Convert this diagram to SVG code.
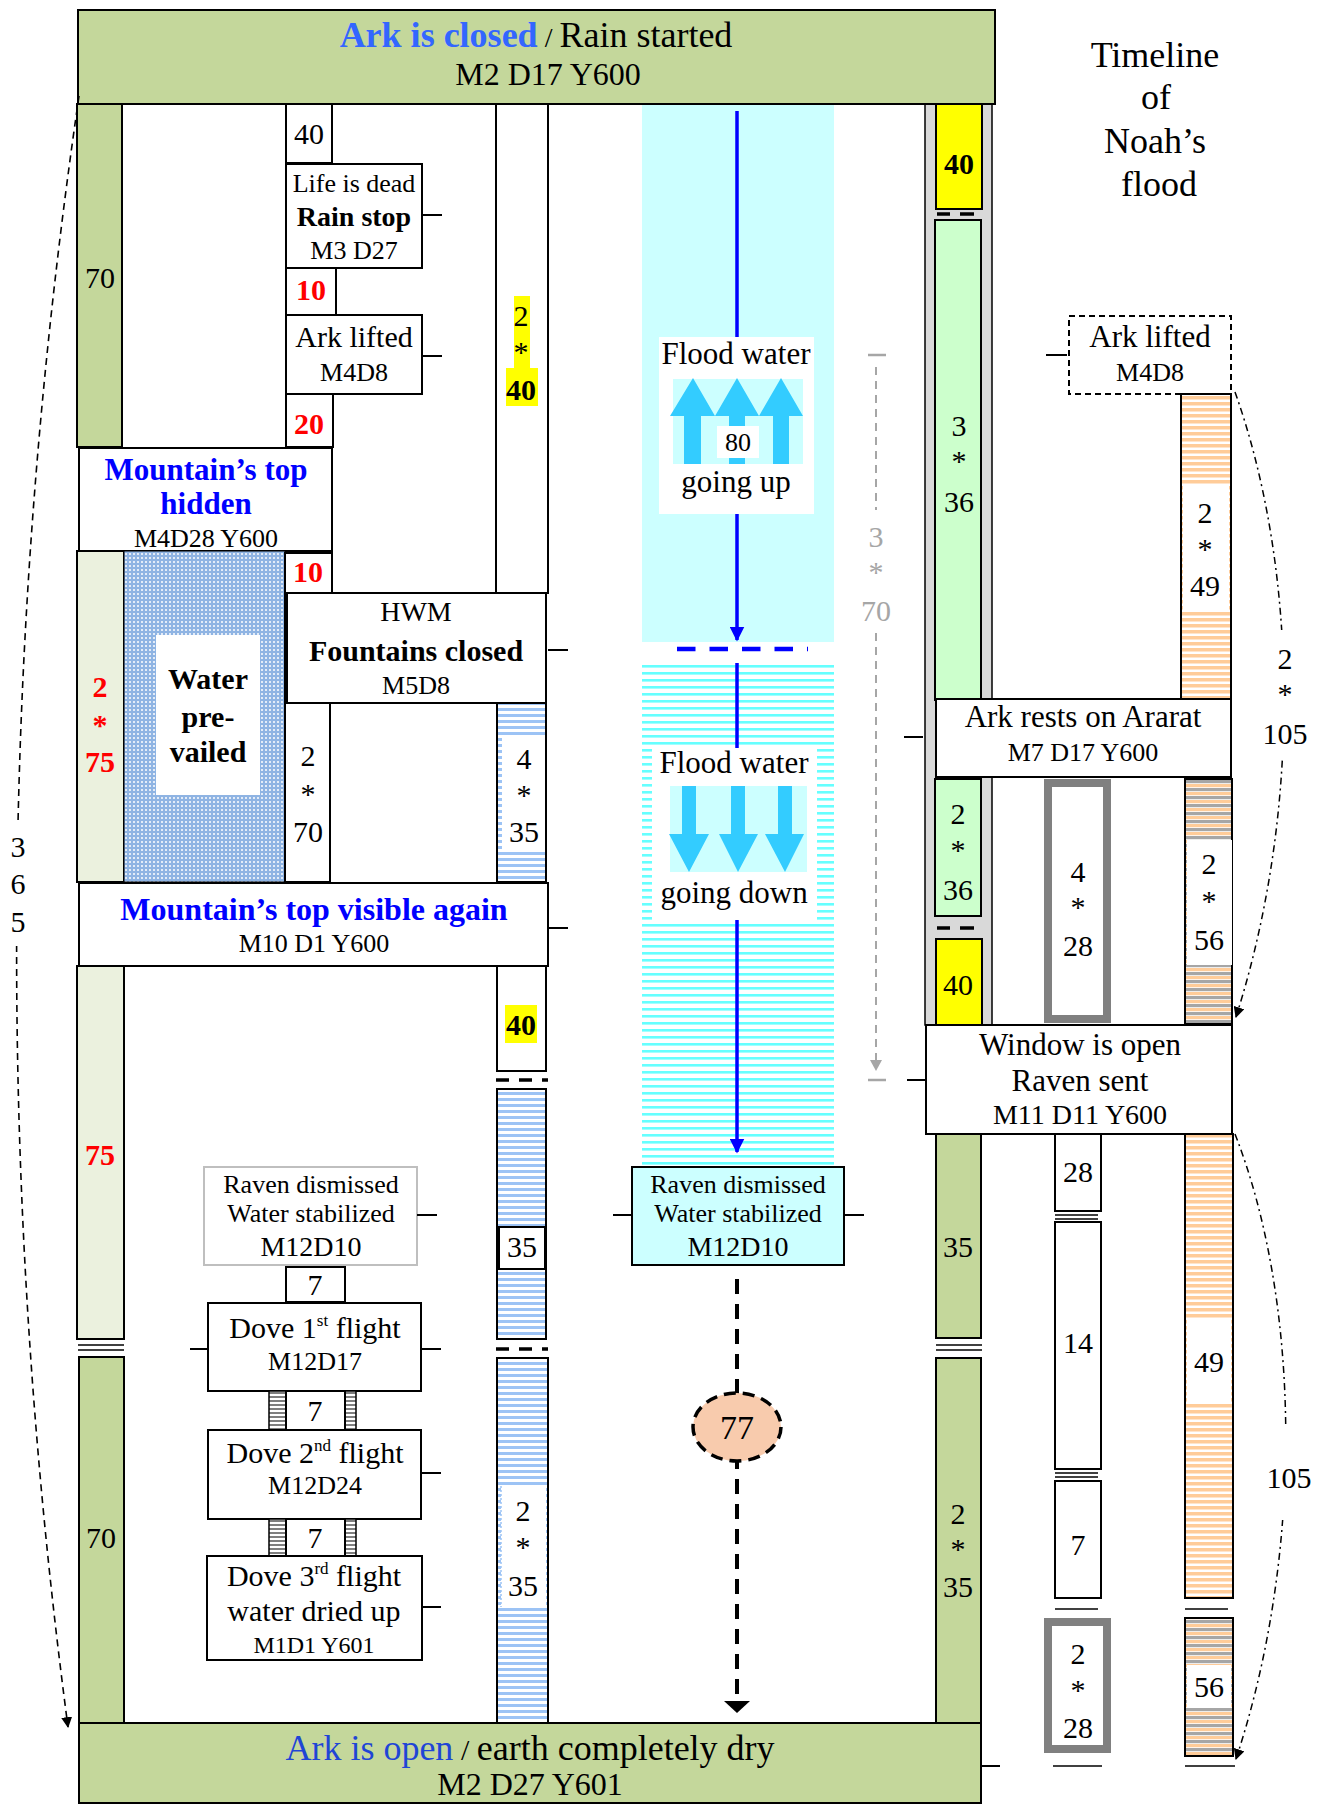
<svg xmlns="http://www.w3.org/2000/svg" width="1323" height="1804" viewBox="0 0 1323 1804">
<style>
text{font-family:"Liberation Serif","Times New Roman",serif;fill:#000}
.c{text-anchor:middle}
.f24{font-size:24px}.f26{font-size:26px}.f28{font-size:28px}.f30{font-size:30px}.f31{font-size:31px}.f32{font-size:32px}.f34{font-size:34px}.f36{font-size:36px}
.b{font-weight:bold}
.red{fill:#ff0000;font-weight:bold}
.blue{fill:#0000ff;font-weight:bold}
.gray{fill:#a6a6a6}
.box{fill:#fff;stroke:#000;stroke-width:2}
.tk{stroke:#000;stroke-width:2}
.sep{stroke:#000;stroke-width:3.5}
.thin{stroke:#000;stroke-width:1.5}
.olive{fill:#c4d79b;stroke:#000;stroke-width:2}
.pale{fill:#ebf1de;stroke:#000;stroke-width:2}
.mint{fill:#ccffcc;stroke:#000;stroke-width:2}
.yel{fill:#ffff00;stroke:#000;stroke-width:2}
.grayframe{fill:#fff;stroke:#808080;stroke-width:8}
.arr{fill:#33ccff}
</style>
<defs>
<pattern id="blueS" width="8" height="6" patternUnits="userSpaceOnUse"><rect width="8" height="6" fill="#fff"/><rect width="8" height="3" fill="#9cc3f5"/></pattern>
<pattern id="cyanS" width="8" height="7" patternUnits="userSpaceOnUse"><rect width="8" height="7" fill="#fff"/><rect width="8" height="2.6" fill="#66ffff"/></pattern>
<pattern id="orS" width="8" height="6" patternUnits="userSpaceOnUse"><rect width="8" height="6" fill="#fff"/><rect width="8" height="3.5" fill="#ffcc99"/></pattern>
<pattern id="ogS" width="8" height="8" patternUnits="userSpaceOnUse"><rect width="8" height="8" fill="#fff"/><rect width="8" height="3.2" fill="#ffcc99"/><rect y="4" width="8" height="3.2" fill="#a6a6a6"/></pattern>
<pattern id="grS" width="4" height="4" patternUnits="userSpaceOnUse"><rect width="4" height="4" fill="#fff"/><rect width="4" height="2" fill="#7f7f7f"/></pattern>
<pattern id="dots" width="4" height="4" patternUnits="userSpaceOnUse"><rect width="4" height="4" fill="#8fb4e3"/><circle cx="2" cy="2" r="1" fill="#fff"/></pattern>
<marker id="ab" viewBox="0 0 10 10" refX="9" refY="5" markerWidth="15" markerHeight="15" markerUnits="userSpaceOnUse" orient="auto"><path d="M0,0 L10,5 L0,10 z" fill="#0000ff"/></marker>
<marker id="ak" viewBox="0 0 10 10" refX="9" refY="5" markerWidth="11" markerHeight="11" markerUnits="userSpaceOnUse" orient="auto"><path d="M0,0 L10,5 L0,10 z" fill="#000"/></marker>
</defs>

<!-- left columns -->
<g id="col-70-top"><rect x="77" y="104" width="45" height="343" class="olive"/><text x="100" y="288" class="c f30">70</text></g>
<g id="box-40-top"><rect x="286" y="104" width="46" height="59" class="box"/><text x="309" y="144" class="c f30">40</text></g>
<g id="rain-stop"><rect x="286" y="164" width="136" height="104" class="box"/>
<text x="354" y="192" class="c f26">Life is dead</text><text x="354" y="226" class="c f28 b">Rain stop</text><text x="354" y="259" class="c f26">M3 D27</text></g>
<g id="box-10a"><rect x="286" y="268" width="50" height="47" class="box"/><text x="311" y="300" class="c f30 red">10</text></g>
<g id="ark-lifted-left"><rect x="286" y="315" width="136" height="79" class="box"/>
<text x="354" y="347" class="c f30">Ark lifted</text><text x="354" y="381" class="c f26">M4D8</text></g>
<g id="box-20"><rect x="286" y="394" width="47" height="53" class="box"/><text x="309" y="434" class="c f30 red">20</text></g>
<g id="col-2x40"><rect x="496" y="104" width="52" height="489" class="box"/>
<rect x="514" y="296" width="16" height="72" fill="#ffff00"/><rect x="506" y="368" width="32" height="38" fill="#ffff00"/>
<text x="521" y="326" class="c f30">2</text><text x="521" y="362" class="c f30">*</text><text x="521" y="400" class="c f30 b">40</text></g>
<g id="mountain-hidden"><rect x="79" y="448" width="253" height="103" class="box"/>
<text x="206" y="480" class="c f31 blue">Mountain’s top</text><text x="206" y="514" class="c f31 blue">hidden</text><text x="206" y="547" class="c f26">M4D28 Y600</text></g>
<g id="col-2x75"><rect x="77" y="551" width="47" height="331" class="pale"/>
<text x="100" y="697" class="c f30 red">2</text><text x="100" y="735" class="c f30 red">*</text><text x="100" y="772" class="c f30 red">75</text></g>
<g id="water-prevailed"><rect x="124" y="551" width="161" height="331" fill="url(#dots)" stroke="#000" stroke-width="1"/>
<rect x="156" y="635" width="104" height="160" fill="#fff"/>
<text x="208" y="689" class="c f30 b">Water</text><text x="208" y="727" class="c f30 b">pre-</text><text x="208" y="762" class="c f30 b">vailed</text></g>
<g id="box-10b"><rect x="285" y="553" width="47" height="40" class="box"/><text x="308" y="582" class="c f30 red">10</text></g>
<g id="hwm"><rect x="285" y="593" width="261" height="110" class="box"/><line x1="286" y1="593" x2="286" y2="703" stroke="#000" stroke-width="4"/>
<text x="416" y="621" class="c f28">HWM</text><text x="416" y="661" class="c f30 b">Fountains closed</text><text x="416" y="694" class="c f26">M5D8</text></g>
<g id="col-2x70"><rect x="285" y="703" width="45" height="179" class="box"/>
<text x="308" y="766" class="c f30">2</text><text x="308" y="804" class="c f30">*</text><text x="308" y="842" class="c f30">70</text></g>
<g id="col-4x35"><rect x="497" y="703" width="49" height="179" fill="url(#blueS)" stroke="#000" stroke-width="2"/>
<rect x="502" y="738" width="43" height="114" fill="#fff"/>
<text x="524" y="769" class="c f30">4</text><text x="524" y="805" class="c f30">*</text><text x="524" y="842" class="c f30">35</text></g>
<g id="mountain-visible"><rect x="79" y="883" width="469" height="83" class="box"/>
<text x="314" y="920" class="c f32 blue">Mountain’s top visible again</text><text x="314" y="952" class="c f26">M10 D1 Y600</text></g>
<g id="col-75"><rect x="77" y="966" width="47" height="373" class="pale"/><text x="100" y="1165" class="c f30 red">75</text></g>
<g id="col-70-bottom"><rect x="79" y="1357" width="45" height="366" class="olive"/><text x="101" y="1548" class="c f30">70</text></g>
<g id="box-40-blue"><rect x="497" y="966" width="49" height="105" class="box"/><rect x="505" y="1005" width="32" height="38" fill="#ffff00"/><text x="521" y="1035" class="c f30 b">40</text></g>
<g id="col-35-blue"><rect x="497" y="1089" width="49" height="250" fill="url(#blueS)" stroke="#000" stroke-width="2"/>
<rect x="499" y="1227" width="46" height="42" class="box"/><text x="522" y="1257" class="c f30">35</text></g>
<g id="col-2x35-blue"><rect x="497" y="1358" width="51" height="365" fill="url(#blueS)" stroke="#000" stroke-width="2"/>
<rect x="501" y="1486" width="45" height="121" fill="#fff"/><line x1="501" y1="1486" x2="501" y2="1607" stroke="#9cc3f5" stroke-width="1.5" stroke-dasharray="2 2"/>
<text x="523" y="1521" class="c f30">2</text><text x="523" y="1557" class="c f30">*</text><text x="523" y="1596" class="c f30">35</text></g>

<g id="raven-left"><rect x="204" y="1167" width="213" height="98" fill="#fff" stroke="#bfbfbf" stroke-width="2"/>
<text x="311" y="1193" class="c f26">Raven dismissed</text><text x="311" y="1222" class="c f26">Water stabilized</text><text x="311" y="1256" class="c f28">M12D10</text></g>
<g id="gap-7a"><rect x="286" y="1267" width="59" height="35" class="box"/><text x="315" y="1295" class="c f30">7</text></g>
<g id="dove1"><rect x="208" y="1303" width="213" height="88" class="box"/>
<text x="315" y="1338" class="c f30">Dove 1<tspan font-size="17" dy="-12">st</tspan><tspan dy="12"> flight</tspan></text><text x="315" y="1370" class="c f26">M12D17</text></g>
<g id="gap-7b"><rect x="269" y="1391" width="17" height="39" fill="url(#grS)" stroke="#000" stroke-width="1.5"/><rect x="345" y="1391" width="11" height="39" fill="url(#grS)" stroke="#000" stroke-width="1.5"/>
<rect x="286" y="1391" width="59" height="39" class="box"/><text x="315" y="1421" class="c f30">7</text></g>
<g id="dove2"><rect x="208" y="1430" width="213" height="89" class="box"/>
<text x="315" y="1463" class="c f30">Dove 2<tspan font-size="17" dy="-12">nd</tspan><tspan dy="12"> flight</tspan></text><text x="315" y="1494" class="c f26">M12D24</text></g>
<g id="gap-7c"><rect x="269" y="1519" width="17" height="37" fill="url(#grS)" stroke="#000" stroke-width="1.5"/><rect x="345" y="1519" width="11" height="37" fill="url(#grS)" stroke="#000" stroke-width="1.5"/>
<rect x="286" y="1519" width="59" height="37" class="box"/><text x="315" y="1548" class="c f30">7</text></g>
<g id="dove3"><rect x="207" y="1556" width="215" height="104" class="box"/>
<text x="314" y="1586" class="c f30">Dove 3<tspan font-size="17" dy="-12">rd</tspan><tspan dy="12"> flight</tspan></text><text x="314" y="1621" class="c f30">water dried up</text><text x="314" y="1653" class="c f24">M1D1 Y601</text></g>

<!-- center -->
<g id="flood-up"><rect x="642" y="104" width="192" height="538" fill="#ccffff"/>
<rect x="659" y="337" width="155" height="177" fill="#fff"/>
<rect x="673" y="379" width="130" height="85" fill="#ccffff"/>
<polygon class="arr" points="670,416 693,378 715,416 701,416 701,464 684,464 684,416"/>
<polygon class="arr" points="715,416 737,378 759,416 745,416 745,464 729,464 729,416"/>
<polygon class="arr" points="759,416 781,378 803,416 789,416 789,464 773,464 773,416"/>
<rect x="717" y="426" width="42" height="32" fill="#fff"/><text x="738" y="451" class="c f26">80</text>
<text x="736" y="364" class="c f31">Flood water</text><text x="736" y="492" class="c f31">going up</text></g>
<g id="flood-down"><rect x="642" y="663" width="192" height="503" fill="url(#cyanS)"/>
<rect x="652" y="748" width="165" height="172" fill="#fff"/>
<rect x="670" y="786" width="137" height="86" fill="#ccffff"/>
<polygon class="arr" points="682,786 696,786 696,834 709,834 689,872 669,834 682,834"/>
<polygon class="arr" points="731,786 745,786 745,834 758,834 738,872 719,834 731,834"/>
<polygon class="arr" points="778,786 792,786 792,834 804,834 785,872 765,834 778,834"/>
<text x="734" y="773" class="c f31">Flood water</text><text x="734" y="903" class="c f31">going down</text></g>
<g id="raven-center"><rect x="632" y="1167" width="212" height="98" fill="#ccffff" stroke="#000" stroke-width="2"/>
<text x="738" y="1193" class="c f26">Raven dismissed</text><text x="738" y="1222" class="c f26">Water stabilized</text><text x="738" y="1256" class="c f28">M12D10</text></g>

<!-- right -->
<g id="gray-column"><rect x="925" y="104" width="67" height="921" fill="#d9d9d9" stroke="#000" stroke-width="1.5"/>
<rect x="936" y="104" width="46" height="105" class="yel"/><text x="959" y="174" class="c f30 b">40</text>
<rect x="935" y="220" width="46" height="480" class="mint"/>
<text x="959" y="436" class="c f30">3</text><text x="959" y="471" class="c f30">*</text><text x="959" y="512" class="c f30">36</text>
<rect x="935" y="779" width="46" height="137" class="mint"/>
<text x="958" y="824" class="c f30">2</text><text x="958" y="860" class="c f30">*</text><text x="958" y="900" class="c f30">36</text>
<rect x="936" y="939" width="46" height="86" class="yel"/><text x="958" y="995" class="c f30">40</text></g>
<g id="ark-lifted-right"><rect x="1069" y="316" width="162" height="78" fill="#fff" stroke="#000" stroke-width="2" stroke-dasharray="6 4"/>
<text x="1150" y="347" class="c f31">Ark lifted</text><text x="1150" y="381" class="c f26">M4D8</text></g>
<g id="col-2x49"><rect x="1181" y="394" width="50" height="305" fill="url(#orS)" stroke="#000" stroke-width="2"/>
<rect x="1183" y="484" width="46" height="126" fill="#fff"/>
<text x="1205" y="523" class="c f30">2</text><text x="1205" y="559" class="c f30">*</text><text x="1205" y="596" class="c f30">49</text></g>
<g id="ararat"><rect x="936" y="699" width="295" height="78" class="box"/>
<text x="1083" y="727" class="c f31">Ark rests on Ararat</text><text x="1083" y="761" class="c f26">M7 D17 Y600</text></g>
<g id="box-4x28"><rect x="1048" y="783" width="59" height="236" class="grayframe"/>
<text x="1078" y="882" class="c f30">4</text><text x="1078" y="917" class="c f30">*</text><text x="1078" y="956" class="c f30">28</text></g>
<g id="col-2x56"><rect x="1185" y="779" width="47" height="245" fill="url(#ogS)" stroke="#000" stroke-width="2"/>
<rect x="1187" y="840" width="45" height="125" fill="#fff"/>
<text x="1209" y="874" class="c f30">2</text><text x="1209" y="911" class="c f30">*</text><text x="1209" y="950" class="c f30">56</text></g>
<g id="window"><rect x="926" y="1025" width="306" height="109" class="box"/>
<text x="1080" y="1055" class="c f31">Window is open</text><text x="1080" y="1091" class="c f31">Raven sent</text><text x="1080" y="1124" class="c f28">M11 D11 Y600</text></g>
<g id="col-35-green"><rect x="936" y="1134" width="45" height="204" class="olive"/><text x="958" y="1257" class="c f30">35</text></g>
<g id="col-2x35-green"><rect x="936" y="1358" width="45" height="365" class="olive"/>
<text x="958" y="1524" class="c f30">2</text><text x="958" y="1559" class="c f30">*</text><text x="958" y="1597" class="c f30">35</text></g>
<g id="box-28"><rect x="1055" y="1134" width="46" height="77" class="box"/><text x="1078" y="1182" class="c f30">28</text></g>
<g id="box-14"><rect x="1055" y="1222" width="46" height="247" class="box"/><text x="1078" y="1353" class="c f30">14</text></g>
<g id="box-7"><rect x="1055" y="1481" width="46" height="117" class="box"/><text x="1078" y="1555" class="c f30">7</text></g>
<g id="box-2x28"><rect x="1048" y="1622" width="59" height="127" class="grayframe"/>
<text x="1078" y="1664" class="c f30">2</text><text x="1078" y="1700" class="c f30">*</text><text x="1078" y="1738" class="c f30">28</text></g>
<g id="col-49"><rect x="1185" y="1134" width="48" height="464" fill="url(#orS)" stroke="#000" stroke-width="2"/>
<rect x="1187" y="1318" width="44" height="84" fill="#fff"/><text x="1209" y="1372" class="c f30">49</text></g>
<g id="col-56"><rect x="1185" y="1618" width="48" height="138" fill="url(#ogS)" stroke="#000" stroke-width="2"/>
<rect x="1187" y="1665" width="44" height="43" fill="#fff"/><text x="1209" y="1697" class="c f30">56</text></g>

<!-- bars -->
<g id="ark-closed"><rect x="78" y="10" width="917" height="94" class="olive"/>
<text x="536" y="47" class="c f36"><tspan fill="#3366ff" font-weight="bold">Ark is closed</tspan><tspan font-size="28"> / </tspan>Rain started</text>
<text x="548" y="85" class="c f32">M2 D17 Y600</text></g>
<g id="ark-open"><rect x="79" y="1723" width="902" height="80" class="olive"/>
<text x="530" y="1760" class="c f36"><tspan fill="#1f45d6">Ark is open</tspan><tspan font-size="30"> / </tspan>earth completely dry</text>
<text x="530" y="1795" class="c f32">M2 D27 Y601</text></g>
<g id="title"><text x="1155" y="67" class="c f36">Timeline</text><text x="1156" y="109" class="c f36">of</text><text x="1155" y="153" class="c f36">Noah’s</text><text x="1159" y="196" class="c f36">flood</text></g>

<!-- connectors -->
<g id="connectors" fill="none">
<line x1="737" y1="111" x2="737" y2="337" stroke="#0000ff" stroke-width="3.5"/>
<line x1="737" y1="514" x2="737" y2="640" stroke="#0000ff" stroke-width="3.5" marker-end="url(#ab)"/>
<line x1="677" y1="649" x2="808" y2="649" stroke="#0000ff" stroke-width="4.5" stroke-dasharray="18.5 14"/>
<line x1="737" y1="663" x2="737" y2="748" stroke="#0000ff" stroke-width="3.5"/>
<line x1="737" y1="920" x2="737" y2="1152" stroke="#0000ff" stroke-width="3.5" marker-end="url(#ab)"/>
<line x1="737" y1="1279" x2="737" y2="1702" stroke="#000" stroke-width="4" stroke-dasharray="15 10"/>
<polygon points="724,1701 750,1701 737,1713" fill="#000"/>
<line x1="876" y1="367" x2="876" y2="1062" stroke="#a6a6a6" stroke-width="2" stroke-dasharray="8 6"/>
<polygon points="870,1060 882,1060 876,1071" fill="#a6a6a6"/>
<line x1="868" y1="355" x2="886" y2="355" stroke="#a6a6a6" stroke-width="2.5"/>
<line x1="868" y1="1080" x2="886" y2="1080" stroke="#a6a6a6" stroke-width="2.5"/>
<path d="M79,96 Q-40,912 68,1727" stroke="#000" stroke-width="1.6" stroke-dasharray="7 5" marker-end="url(#ak)"/>
<path d="M1235,392 C1295,560 1305,800 1236,1017" stroke="#000" stroke-width="1.5" stroke-dasharray="7 4 2 4" marker-end="url(#ak)"/>
<path d="M1235,1134 C1300,1300 1305,1550 1236,1759" stroke="#000" stroke-width="1.5" stroke-dasharray="7 4 2 4" marker-end="url(#ak)"/>
<line class="tk" x1="422" y1="215" x2="442" y2="215"/>
<line class="tk" x1="422" y1="356" x2="442" y2="356"/>
<line class="tk" x1="548" y1="650" x2="568" y2="650"/>
<line class="tk" x1="548" y1="928" x2="568" y2="928"/>
<line class="tk" x1="417" y1="1215" x2="437" y2="1215"/>
<line class="tk" x1="613" y1="1215" x2="632" y2="1215"/>
<line class="tk" x1="844" y1="1215" x2="864" y2="1215"/>
<line class="tk" x1="190" y1="1349" x2="208" y2="1349"/>
<line class="tk" x1="421" y1="1349" x2="441" y2="1349"/>
<line class="tk" x1="421" y1="1473" x2="441" y2="1473"/>
<line class="tk" x1="421" y1="1607" x2="441" y2="1607"/>
<line class="tk" x1="1046" y1="355" x2="1067" y2="355"/>
<line class="tk" x1="904" y1="737" x2="923" y2="737"/>
<line class="tk" x1="907" y1="1080" x2="926" y2="1080"/>
<line class="tk" x1="981" y1="1766" x2="1000" y2="1766"/>
<line class="thin" x1="1053" y1="1766" x2="1102" y2="1766"/>
<line class="thin" x1="1185" y1="1766" x2="1235" y2="1766"/>
<line class="sep" x1="937" y1="214" x2="950" y2="214"/><line class="sep" x1="960" y1="214" x2="974" y2="214"/>
<line class="sep" x1="937" y1="928" x2="950" y2="928"/><line class="sep" x1="960" y1="928" x2="974" y2="928"/>
<line class="sep" x1="496" y1="1080" x2="548" y2="1080" stroke-dasharray="13 10"/>
<line class="sep" x1="496" y1="1349" x2="548" y2="1349" stroke-dasharray="13 10"/>
<line class="thin" x1="78" y1="1345" x2="124" y2="1345"/><line class="thin" x1="78" y1="1350" x2="124" y2="1350"/>
<line class="thin" x1="936" y1="1345" x2="982" y2="1345"/><line class="thin" x1="936" y1="1350" x2="982" y2="1350"/>
<line class="thin" x1="1055" y1="1215" x2="1098" y2="1215"/><line class="thin" x1="1055" y1="1219" x2="1098" y2="1219"/>
<line class="thin" x1="1055" y1="1473" x2="1098" y2="1473"/><line class="thin" x1="1055" y1="1477" x2="1098" y2="1477"/>
<line class="thin" x1="1055" y1="1609" x2="1098" y2="1609"/>
<line class="thin" x1="1185" y1="1609" x2="1228" y2="1609"/>
</g>

<!-- span labels -->
<g id="label-365"><rect x="4" y="822" width="30" height="124" fill="#fff"/>
<text x="18" y="857" class="c f30">3</text><text x="18" y="894" class="c f30">6</text><text x="18" y="932" class="c f30">5</text></g>
<g id="label-2x105"><rect x="1265" y="630" width="42" height="128" fill="#fff"/>
<text x="1285" y="669" class="c f30">2</text><text x="1285" y="704" class="c f30">*</text><text x="1285" y="744" class="c f30">105</text></g>
<g id="label-105"><rect x="1262" y="1427" width="52" height="93" fill="#fff"/><text x="1289" y="1488" class="c f30">105</text></g>
<g id="label-3x70"><rect x="860" y="510" width="32" height="120" fill="#fff"/>
<text x="876" y="547" class="c f30 gray">3</text><text x="876" y="582" class="c f30 gray">*</text><text x="876" y="621" class="c f30 gray">70</text></g>
<g id="ellipse-77"><ellipse cx="737" cy="1427" rx="44" ry="34" fill="#f8cbad" stroke="#000" stroke-width="3.5" stroke-dasharray="12 7"/><text x="737" y="1439" class="c f34">77</text></g>
</svg>
